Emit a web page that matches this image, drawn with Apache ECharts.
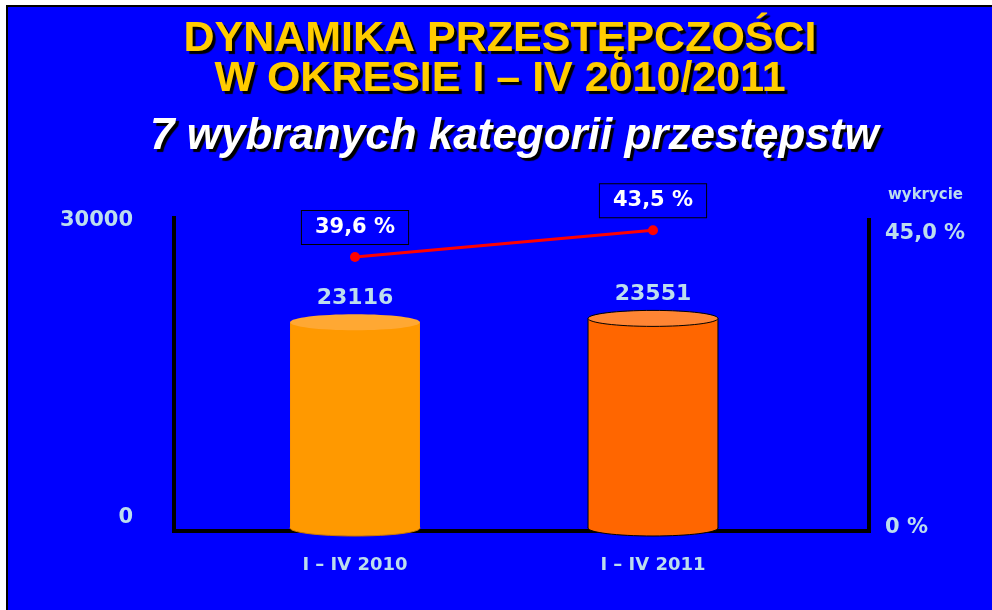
<!DOCTYPE html>
<html>
<head>
<meta charset="utf-8">
<script src="https://cdn.jsdelivr.net/npm/echarts@6/dist/echarts.min.js"></script>
<style>
  html, body { margin: 0; padding: 0; background: #fff; }
  #edge { position: absolute; left: 6px; top: 5px; width: 986px; height: 605px; background: #000; }
  #chart { position: absolute; left: 8px; top: 7px; width: 984px; height: 603px; }
</style>
</head>
<body>
<div id="edge"></div>
<div id="chart"></div>
<script>
// data
const categories = ['I – IV 2010', 'I – IV 2011'];
const crimeCounts = [23116, 23551];
const detectionRates = [39.6, 43.5];
const countTicks = [0, 30000];
const rateTicks = [0, 45];

// cylinder looks, one per category
const cylBody = ['#FF9900', '#FF6600'];
const cylTop = ['#FFA833', '#FF8533'];
const cylEdge = [null, '#000000'];

const paleBlue = '#BCDDEE';
const bg = '#0000FF';

const pct = v => v === 0 ? '0 %' : v.toFixed(1).replace('.', ',') + ' %';

function renderCylinder(params, api) {
    const i = api.value(0);
    const v = api.value(1);
    const top = api.coord([i, v]);
    const base = api.coord([i, 0]);
    const rx = api.size([1, 0])[0] * 0.218;
    const ry = 8;
    const edge = cylEdge[i];
    const kids = [
        { type: 'ellipse', shape: { cx: top[0], cy: base[1], rx: rx, ry: ry },
          style: { fill: cylBody[i], stroke: edge || '#D07800', lineWidth: 1 } },
        { type: 'rect', shape: { x: top[0] - rx, y: top[1], width: rx * 2, height: base[1] - top[1] },
          style: { fill: cylBody[i] } }
    ];
    if (edge) {
        kids.push({ type: 'line', shape: { x1: top[0] - rx, y1: top[1], x2: top[0] - rx, y2: base[1] }, style: { stroke: edge, lineWidth: 1 } });
        kids.push({ type: 'line', shape: { x1: top[0] + rx, y1: top[1], x2: top[0] + rx, y2: base[1] }, style: { stroke: edge, lineWidth: 1 } });
    }
    kids.push({ type: 'ellipse', shape: { cx: top[0], cy: top[1], rx: rx, ry: ry },
        style: { fill: cylTop[i], stroke: edge, lineWidth: edge ? 1 : 0 } });
    kids.push({ type: 'text', style: { text: String(v), x: top[0], y: top[1] - 24, align: 'center', verticalAlign: 'middle',
        fill: paleBlue, font: 'bold 22px "DejaVu Sans"' } });
    return { type: 'group', children: kids };
}

const chart = echarts.init(document.getElementById('chart'));
chart.setOption({
    backgroundColor: bg,
    animation: false,
    title: [{
        text: 'DYNAMIKA PRZESTĘPCZOŚCI\nW OKRESIE I – IV 2010/2011',
        left: 'center', top: 12, padding: 0,
        textStyle: {
            color: '#FFCC00', fontFamily: 'Liberation Sans', fontWeight: 'bold', fontSize: 43, lineHeight: 40,
            textShadowColor: '#000', textShadowOffsetX: 3, textShadowOffsetY: 3, textShadowBlur: 1
        }
    }, {
        text: '7 wybranych kategorii przestępstw',
        left: 142, top: 108, padding: 0,
        textStyle: {
            color: '#FFFFFF', fontFamily: 'Liberation Sans', fontWeight: 'bold', fontStyle: 'italic', fontSize: 44,
            textShadowColor: '#000', textShadowOffsetX: 3, textShadowOffsetY: 3, textShadowBlur: 1
        }
    }],
    graphic: [{
        type: 'polyline', z: 1,
        shape: { points: [[166, 209], [166, 524], [861, 524], [861, 211]] },
        style: { stroke: '#000', lineWidth: 4, fill: null }
    }],
    grid: [
        { left: 198, right: 190, top: 254, bottom: 82 },
        { left: 198, right: 190, top: 213, bottom: 82 }
    ],
    xAxis: [{
        type: 'category', gridIndex: 0, data: categories,
        axisLine: { show: false }, axisTick: { show: false },
        axisLabel: { margin: 28, color: paleBlue, fontFamily: 'DejaVu Sans', fontWeight: 'bold', fontSize: 18 }
    }, {
        type: 'category', gridIndex: 1, data: categories, show: false
    }],
    yAxis: [{
        type: 'value', gridIndex: 0, position: 'left',
        min: countTicks[0], max: countTicks[1], interval: countTicks[1] - countTicks[0],
        axisLine: { show: false }, axisTick: { show: false }, splitLine: { show: false },
        axisLabel: {
            margin: 73,
            formatter: v => v === countTicks[1] ? '{hi|' + v + '}' : '{lo|' + v + '}',
            rich: {
                hi: { color: paleBlue, fontFamily: 'DejaVu Sans', fontWeight: 'bold', fontSize: 21, padding: [0, 0, 80, 0] },
                lo: { color: paleBlue, fontFamily: 'DejaVu Sans', fontWeight: 'bold', fontSize: 21, padding: [0, 0, 20, 0] }
            }
        }
    }, {
        type: 'value', gridIndex: 1, position: 'right',
        min: rateTicks[0], max: rateTicks[1], interval: rateTicks[1] - rateTicks[0],
        name: 'wykrycie', nameLocation: 'end', nameGap: 17,
        nameTextStyle: { align: 'left', padding: [0, 0, 0, 86], color: paleBlue, fontFamily: 'DejaVu Sans', fontWeight: 'bold', fontSize: 15 },
        axisLine: { show: false }, axisTick: { show: false }, splitLine: { show: false },
        axisLabel: {
            margin: 83,
            formatter: v => v === rateTicks[1] ? '{hi|' + pct(v) + '}' : '{lo|' + pct(v) + '}',
            rich: {
                hi: { color: paleBlue, fontFamily: 'DejaVu Sans', fontWeight: 'bold', fontSize: 21, padding: [28, 0, 0, 0] },
                lo: { color: paleBlue, fontFamily: 'DejaVu Sans', fontWeight: 'bold', fontSize: 21 }
            }
        }
    }],
    series: [{
        type: 'custom', z: 3,
        xAxisIndex: 0, yAxisIndex: 0,
        renderItem: renderCylinder,
        encode: { x: 0, y: 1 },
        data: crimeCounts.map((v, i) => [i, v])
    }, {
        type: 'line', z: 4,
        xAxisIndex: 1, yAxisIndex: 1,
        data: detectionRates,
        symbol: 'circle', symbolSize: 10,
        lineStyle: { color: '#FF0000', width: 3 },
        itemStyle: { color: '#FF0000' },
        label: {
            show: true, position: 'top', distance: 8,
            formatter: p => pct(p.value),
            color: '#FFFFFF', fontFamily: 'DejaVu Sans', fontWeight: 'bold', fontSize: 21,
            backgroundColor: bg, borderColor: '#000', borderWidth: 1, padding: [6, 13]
        }
    }]
});
window.onresize = () => chart.resize();
</script>
</body>
</html>
